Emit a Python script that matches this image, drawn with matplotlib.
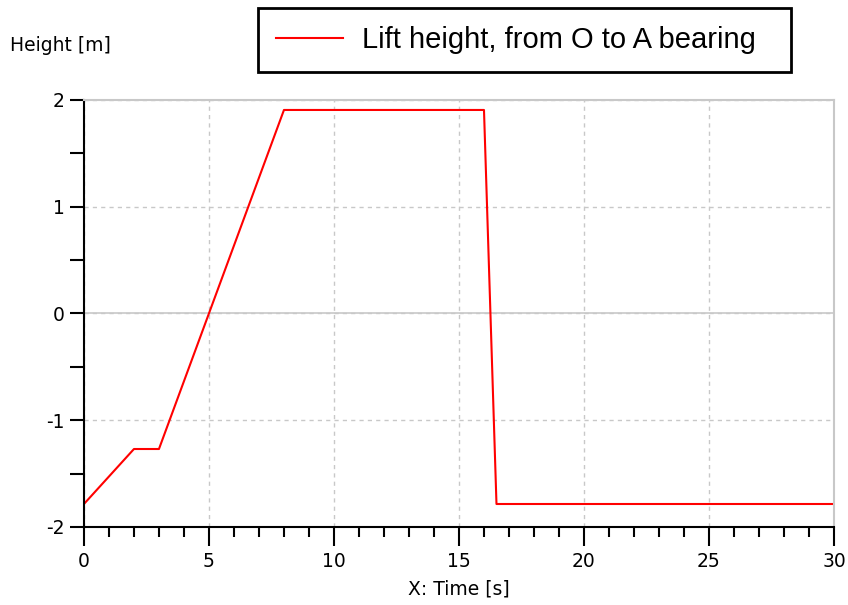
import matplotlib.pyplot as plt
import numpy as np
from matplotlib.ticker import MultipleLocator

# lift height over time
time_s = [0, 2, 3, 8, 16, 16.5, 30]
height_m = [-1.785, -1.27, -1.27, 1.905, 1.905, -1.785, -1.785]

fig = plt.figure(figsize=(8.48, 6.05), dpi=100)
ax = fig.add_axes([0.099, 0.129, 0.8845, 0.706])

ax.plot(time_s, height_m, color='red', lw=1.5, label='Lift height, from O to A bearing')

ax.set_xlim(0, 30)
ax.set_ylim(-2, 2)
ax.xaxis.set_major_locator(MultipleLocator(5))
ax.xaxis.set_minor_locator(MultipleLocator(1))
ax.yaxis.set_minor_locator(MultipleLocator(0.5))
ax.set_yticks([-2, -1, 0, 1, 2])
ax.set_yticklabels(['-2', '-1', '0', '1', '2'])

ax.grid(True, which='major', color='#c8c8c8', ls=(0, (3, 3)), lw=1)
ax.axhline(0, color='#c8c8c8', lw=1.2, zorder=1)

for s in ['top', 'right']:
    ax.spines[s].set_color('#c8c8c8')
    ax.spines[s].set_linewidth(1.5)
for s in ['left', 'bottom']:
    ax.spines[s].set_linewidth(1.5)

ax.tick_params(which='major', direction='out', length=10, width=1.5, labelsize=13.5, pad=4)
ax.tick_params(which='minor', direction='out', length=7, width=1.5)
ax.tick_params(axis='x', which='major', length=14)
ax.tick_params(axis='y', which='minor', length=10)

ax.set_xlabel('X: Time [s]', fontsize=13.5, labelpad=6)
fig.text(0.012, 0.925, 'Height [m]', fontsize=13.5, va='center', ha='left')

# legend box
x0, x1 = 258 / 848, 791 / 848
y0, y1 = 1 - 74 / 605, 1 - 8 / 605
leg = fig.legend(loc='upper left', bbox_to_anchor=(x0, y0, x1 - x0, y1 - y0), mode='expand',
                 prop={'family': 'Liberation Sans', 'size': 21},
                 frameon=True, fancybox=False, framealpha=1, handlelength=2.3, handletextpad=0.65,
                 borderpad=0.62, borderaxespad=0)
leg.get_frame().set_edgecolor('black')
leg.get_frame().set_linewidth(2)

fig.savefig('out.png', dpi=100)
